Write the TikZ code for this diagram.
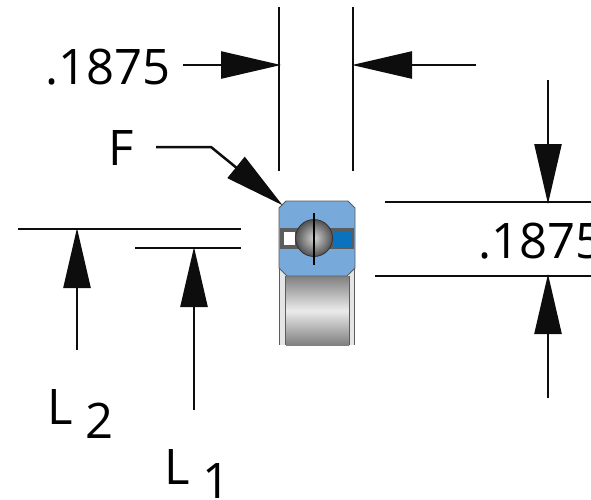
\documentclass[tikz,border=0pt]{standalone}
\usepackage{xcolor}
\usepackage{fontspec}
\setmainfont{Open Sans}
\usetikzlibrary{arrows.meta,positioning,calc}
\definecolor{racewayblue}{HTML}{78A9DB}
\definecolor{separatorblue}{HTML}{0B72BE}
\definecolor{pocketgray}{HTML}{5A5C5E}

\begin{document}
\begin{tikzpicture}[x=1pt,y=-1pt,
    dimline/.style={draw=black!95, line width=2.5pt},
    dimarrow/.style={dimline, -{Triangle[length=60pt,width=27pt]}, shorten >=-2pt},
    dimtext/.style={inner sep=0pt, anchor=base west, font=\fontsize{49}{49}\selectfont}]
    \useasboundingbox (0,0) rectangle (591,499);
    \clip (0,0) rectangle (591,499);

    % extension lines
    \coordinate (leftTop) at (279,7);
    \coordinate (leftEnd) at (279,171);
    \coordinate (rightTop) at (353,7);
    \coordinate (rightEnd) at (353,171);
    \coordinate (upperStart) at (385,202);
    \coordinate (upperEnd) at (591,202);
    \coordinate (lowerStart) at (375,276);
    \coordinate (lowerEnd) at (591,276);
    \coordinate (ltwoStart) at (18,229);
    \coordinate (ltwoEnd) at (241,229);
    \coordinate (loneStart) at (135,248);
    \coordinate (loneEnd) at (241,248);
    \draw [dimline] (leftTop) -- (leftEnd);
    \draw [dimline] (rightTop) -- (rightEnd);
    \draw [dimline] (upperStart) -- (upperEnd);
    \draw [dimline] (lowerStart) -- (lowerEnd);
    \draw [dimline] (ltwoStart) -- (ltwoEnd);
    \draw [dimline] (loneStart) -- (loneEnd);

    % bearing bore
    \shade [top color=black!50, bottom color=black!50, middle color=black!8]
        (286,276) rectangle (349,345);
    \fill [black!10] (279,262) rectangle (286,345);
    \fill [black!10] (349,262) rectangle (355,345);
    \draw [pocketgray, line width=1.2pt] (279.5,262) -- (279.5,345);
    \draw [pocketgray, line width=1.2pt] (285.5,276) -- (285.5,345);
    \draw [pocketgray, line width=1.2pt] (349.5,276) -- (349.5,345);
    \draw [pocketgray, line width=1.2pt] (354.5,262) -- (354.5,345);

    % bearing section
    \filldraw [fill=racewayblue, draw=pocketgray, line width=0.8pt]
        (286,201) -- (348,201) -- (355,208) -- (355,268) -- (347,276)
        -- (287,276) -- (279,268) -- (279,208) -- cycle;
    \fill [pocketgray] (280,228) rectangle (354,249);
    \fill [white] (284,232) rectangle (295,245);
    \fill [separatorblue] (334,232) rectangle (352,247);
    \shade [inner color=black!18, outer color=black!68, draw=black!80, line width=0.8pt]
        (314,238) circle (18.5);
    \coordinate (ballTop) at (314,213);
    \coordinate (ballEnd) at (314,265);
    \draw [black, line width=2pt] (ballTop) -- (ballEnd);

    % labels
    \node [dimtext] (widthLabel) at (45,84) {.1875};
    \node [dimtext] (heightLabel) at (478,258) {.1875};
    \node [dimtext] (fLabel) at (108,165) {F};
    \node [dimtext] (ltwoLabel) at (47,424) {L};
    \node [dimtext] (ltwoSub) at (85,438) {2};
    \node [dimtext] (loneLabel) at (164,484) {L};
    \node [dimtext] (loneSub) at (202,498) {1};

    % arrows
    \coordinate (widthStart) at (183,65);
    \coordinate (widthTip) at (279,65);
    \coordinate (widthFar) at (476,65);
    \coordinate (widthBack) at (354,65);
    \coordinate (heightStart) at (548,80);
    \coordinate (heightTip) at (548,202);
    \coordinate (heightFar) at (548,398);
    \coordinate (heightBack) at (548,276);
    \coordinate (ltwoFoot) at (77,350);
    \coordinate (ltwoTip) at (77,230);
    \coordinate (loneFoot) at (194,410);
    \coordinate (loneTip) at (194,249);
    \coordinate (fStart) at (156,147);
    \coordinate (fBend) at (211,147);
    \coordinate (fTip) at (281,204);
    \draw [dimarrow] (widthStart) -- (widthTip);
    \draw [dimarrow] (widthFar) -- (widthBack);
    \draw [dimarrow] (heightStart) -- (heightTip);
    \draw [dimarrow] (heightFar) -- (heightBack);
    \draw [dimarrow] (ltwoFoot) -- (ltwoTip);
    \draw [dimarrow] (loneFoot) -- (loneTip);
    \draw [dimarrow] (fStart) -- (fBend) -- (fTip);
\end{tikzpicture}
\end{document}
